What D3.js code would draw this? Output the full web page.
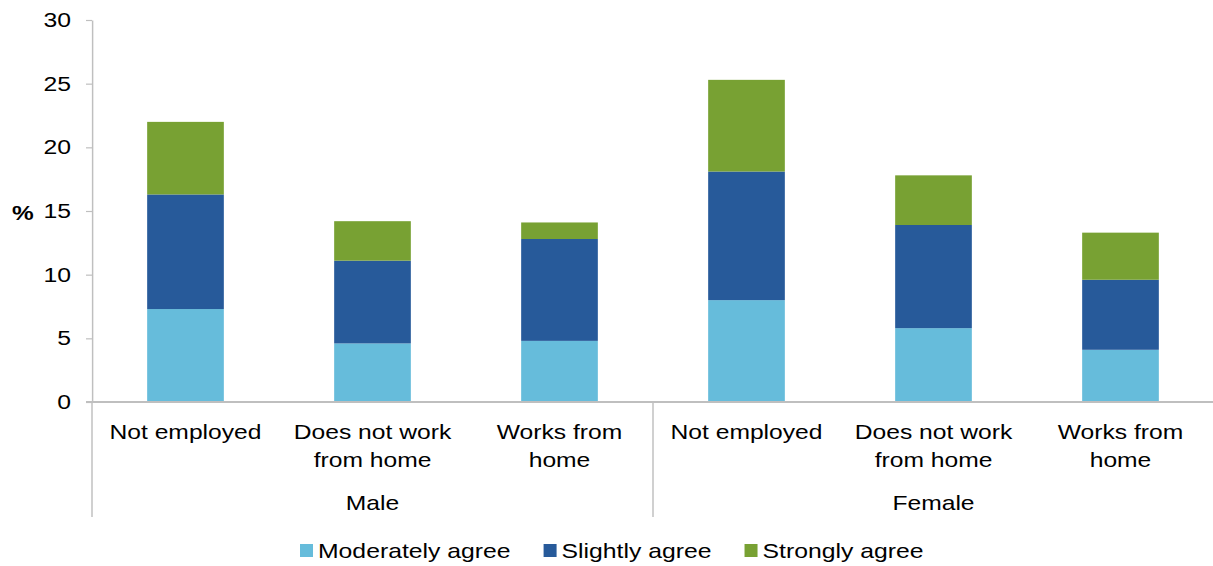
<!DOCTYPE html>
<html>
<head>
<meta charset="utf-8">
<script src="https://cdn.jsdelivr.net/npm/d3@7"></script>
<style>
  html, body { margin: 0; padding: 0; background: #fff; }
  svg { display: block; }
  text { font-family: "Liberation Sans", Arial, sans-serif; fill: #000; }
</style>
</head>
<body>
<svg id="chart"></svg>
<script>
// Stacked agreement shares by sex and work situation
const groups = ["Male", "Female"];
const categories = [
  ["Not employed"],
  ["Does not work", "from home"],
  ["Works from", "home"]
];
const seriesNames = ["Moderately agree", "Slightly agree", "Strongly agree"];
const moderatelyAgree = [7.3, 4.6, 4.8, 8.0, 5.8, 4.1];
const slightlyAgree   = [9.0, 6.5, 8.0, 10.1, 8.1, 5.5];
const stronglyAgree   = [5.7, 3.1, 1.3, 7.2, 3.9, 3.7];
const yTicks = [0, 5, 10, 15, 20, 25, 30];
const colors = ["#66BCDB", "#275A9A", "#78A133"];

// Text in this chart is set in a horizontally widened face, so the drawing
// is laid out in a narrower coordinate space and stretched to the window.
const W = 1213, H = 566, SX = 1.22;
const sx = v => v / SX;

const svg = d3.select("#chart")
  .attr("width", W).attr("height", H)
  .attr("viewBox", `0 0 ${W / SX} ${H}`)
  .attr("preserveAspectRatio", "none");

// one row per bar
const rows = [];
groups.forEach((g, gi) => categories.forEach((c, ci) => {
  const i = gi * categories.length + ci;
  rows.push({
    key: g + "|" + c.join(" "),
    group: g,
    lines: c,
    "Moderately agree": moderatelyAgree[i],
    "Slightly agree": slightlyAgree[i],
    "Strongly agree": stronglyAgree[i]
  });
}));

const x = d3.scaleBand()
  .domain(rows.map(r => r.key))
  .range([sx(92), sx(1214)])
  .padding(0);
const barW = x.bandwidth() * 0.41;

const y = d3.scaleLinear().domain([0, 30]).range([402, 20]);

const stacked = d3.stack().keys(seriesNames)(rows);

// bars
svg.append("g").selectAll("g")
  .data(stacked)
  .join("g")
  .attr("fill", (d, i) => colors[i])
  .selectAll("rect")
  .data(d => d)
  .join("rect")
  .attr("x", d => x(d.data.key) + (x.bandwidth() - barW) / 2)
  .attr("width", barW)
  .attr("y", d => y(d[1]))
  .attr("height", d => y(d[0]) - y(d[1]));

// y axis
const yAxis = svg.append("g")
  .attr("transform", `translate(${sx(92)},0)`)
  .call(d3.axisLeft(y).tickValues(yTicks).tickSize(sx(6)).tickSizeOuter(0).tickPadding(sx(15)));
yAxis.select(".domain").attr("stroke", "#BFBFBF").attr("stroke-width", 1.2);
yAxis.selectAll(".tick line").attr("stroke", "#BFBFBF").attr("stroke-width", 1.2);
yAxis.selectAll(".tick text")
  .attr("font-size", 20.3)
  .attr("font-family", "Liberation Sans, Arial, sans-serif")
  .attr("fill", "#000");

// axis unit label
svg.append("text")
  .attr("x", sx(12)).attr("y", 220)
  .attr("font-size", 20).attr("font-weight", "bold")
  .text("%");

// baseline
svg.append("line")
  .attr("x1", sx(86)).attr("x2", sx(1214))
  .attr("y1", y(0)).attr("y2", y(0))
  .attr("stroke", "#BFBFBF").attr("stroke-width", 1.8);

// group separators below the baseline
const groupEdges = [0, 1, 2].map(g => g === 2 ? x.range()[1] : x(rows[g * categories.length].key));
svg.append("g").selectAll("line")
  .data(groupEdges.slice(0, 2))
  .join("line")
  .attr("x1", d => d).attr("x2", d => d)
  .attr("y1", y(0)).attr("y2", 517)
  .attr("stroke", "#BFBFBF").attr("stroke-width", 1.2);

// category labels
const catLabels = svg.append("g").selectAll("text")
  .data(rows)
  .join("text")
  .attr("text-anchor", "middle")
  .attr("font-size", 20.2)
  .attr("x", d => x(d.key) + x.bandwidth() / 2)
  .attr("y", 439);
catLabels.selectAll("tspan")
  .data(d => d.lines.map(l => ({ l, cx: x(d.key) + x.bandwidth() / 2 })))
  .join("tspan")
  .attr("x", d => d.cx)
  .attr("dy", (d, i) => i === 0 ? 0 : 28)
  .text(d => d.l);

// group labels
svg.append("g").selectAll("text")
  .data(groups)
  .join("text")
  .attr("text-anchor", "middle")
  .attr("font-size", 20.2)
  .attr("x", (g, gi) => (groupEdges[gi] + groupEdges[gi + 1]) / 2)
  .attr("y", 510)
  .text(g => g);

// legend
const legend = svg.append("g");
let lx = sx(300);
seriesNames.forEach((name, i) => {
  legend.append("rect")
    .attr("x", lx).attr("y", 544)
    .attr("width", sx(13)).attr("height", 13)
    .attr("fill", colors[i]);
  const t = legend.append("text")
    .attr("x", lx + sx(18)).attr("y", 558)
    .attr("font-size", 20.3)
    .text(name);
  lx += sx(18) + t.node().getComputedTextLength() + sx(33);
});
</script>
</body>
</html>
